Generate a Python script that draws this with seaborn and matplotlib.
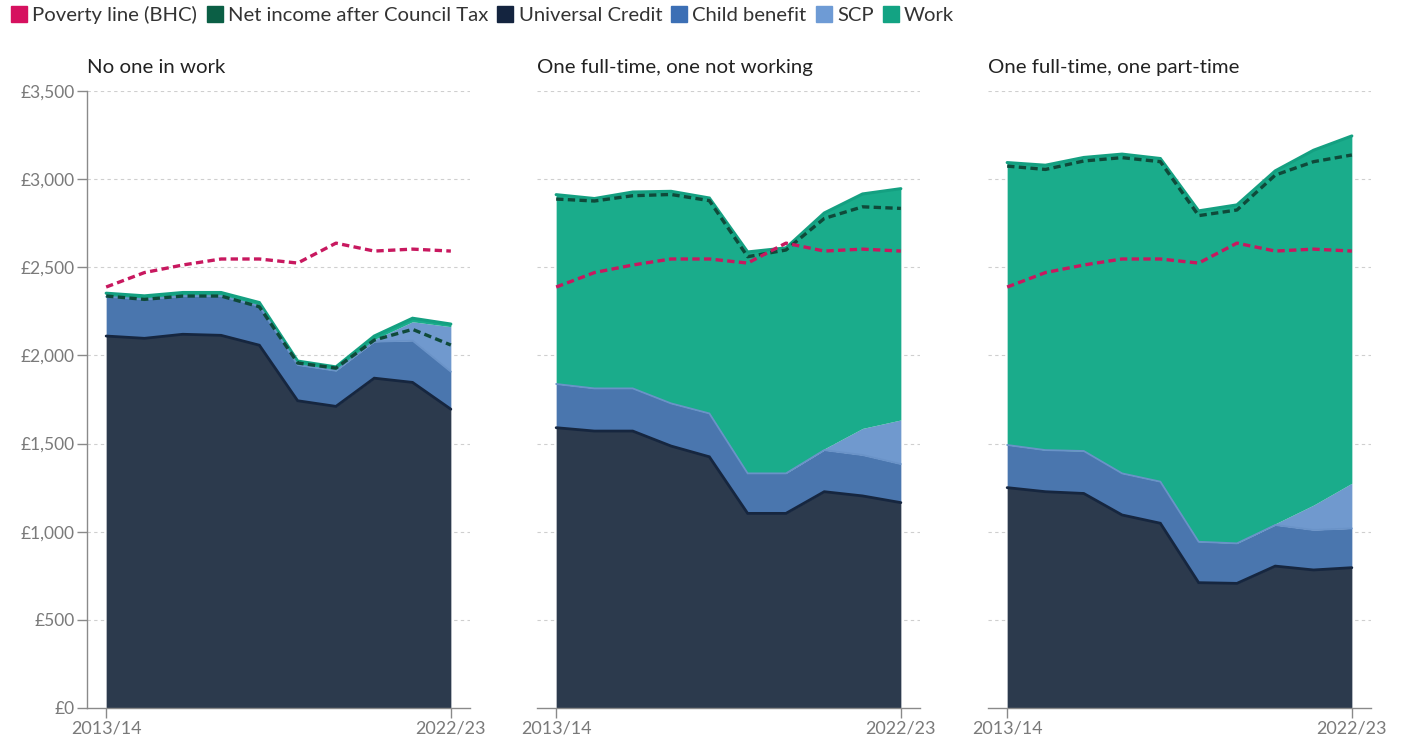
import numpy as np
import pandas as pd
import matplotlib
matplotlib.use("Agg")
import matplotlib.pyplot as plt
from matplotlib.lines import Line2D
import seaborn as sns

# ---------------- data ----------------
years = ["2013/14", "2014/15", "2015/16", "2016/17", "2017/18",
         "2018/19", "2019/20", "2020/21", "2021/22", "2022/23"]
panel_titles = ["No one in work", "One full-time, one not working", "One full-time, one part-time"]

poverty = [2388, 2470, 2513, 2547, 2547, 2524, 2637, 2592, 2603, 2592]

uc1 = [2110, 2097, 2120, 2114, 2058, 1743, 1711, 1871, 1847, 1695]
cb1 = [223, 221, 217, 223, 222, 203, 202, 207, 237, 213]
scp1 = [0, 0, 0, 0, 0, 0, 0, 12, 107, 255]
work1 = [20, 20, 20, 20, 20, 22, 22, 20, 20, 15]
net1 = [2337, 2318, 2337, 2337, 2276, 1957, 1928, 2087, 2148, 2059]

uc2 = [1590, 1571, 1571, 1486, 1425, 1104, 1104, 1227, 1203, 1165]
cb2 = [248, 242, 242, 242, 246, 227, 227, 236, 232, 219]
scp2 = [0, 0, 0, 0, 0, 0, 0, 7, 151, 250]
work2 = [1074, 1077, 1114, 1203, 1222, 1256, 1279, 1338, 1330, 1312]
net2 = [2887, 2876, 2906, 2913, 2878, 2560, 2598, 2777, 2843, 2834]

uc3 = [1250, 1227, 1217, 1095, 1048, 711, 707, 805, 783, 796]
cb3 = [242, 236, 241, 236, 236, 232, 227, 233, 227, 223]
scp3 = [0, 0, 0, 0, 0, 0, 0, 7, 141, 256]
work3 = [1602, 1616, 1665, 1811, 1833, 1877, 1920, 2002, 2013, 1970]
net3 = [3074, 3055, 3103, 3122, 3099, 2793, 2825, 3023, 3099, 3137]

ytick_values = [0, 500, 1000, 1500, 2000, 2500, 3000, 3500]
ytick_labels = ["£0", "£500", "£1,000", "£1,500", "£2,000", "£2,500", "£3,000", "£3,500"]

legend_labels = ["Poverty line (BHC)", "Net income after Council Tax", "Universal Credit",
                 "Child benefit", "SCP", "Work"]

panels = [
    (uc1, cb1, scp1, work1, net1),
    (uc2, cb2, scp2, work2, net2),
    (uc3, cb3, scp3, work3, net3),
]

# ---------------- style ----------------
sns.set_theme(style="white")
plt.rcParams["font.family"] = ["Lato", "DejaVu Sans"]

fill_cols = ["#2C3A4D", "#4A76AE", "#7099CE", "#1AAC8B"]
edge_cols = ["#16263F", "#6A93C8", "#7DA3D4", "#14A081"]
edge_lw = [2.0, 1.3, 1.0, 2.2]
pov_col = "#C8185F"
net_col = "#0F4A3A"
legend_cols = ["#D6115F", "#0B5F45", "#14243F", "#3C6FB5", "#6E9BD5", "#13A383"]
grey = "#8A8A8A"

fig = plt.figure(figsize=(14.08, 7.43), dpi=100)
W, H = 1408, 743
lefts = [87, 537, 988]
ax_w = 383
bottom_px, top_px = 708, 91

x = np.arange(len(years))

for i, (uc, cb, scp, work, net) in enumerate(panels):
    ax = fig.add_axes([lefts[i] / W, 1 - bottom_px / H, ax_w / W, (bottom_px - top_px) / H])
    comps = [np.array(uc), np.array(cb), np.array(scp), np.array(work)]
    cum = np.cumsum(np.vstack(comps), axis=0)
    base = np.zeros(len(x))
    for k in range(4):
        ax.fill_between(x, base, cum[k], color=fill_cols[k], linewidth=0, zorder=2 + k * 0.1)
        base = cum[k]
    # edges drawn with seaborn
    for k in [3, 1, 0]:
        df = pd.DataFrame({"x": x, "y": cum[k]})
        sns.lineplot(data=df, x="x", y="y", ax=ax, color=edge_cols[k], linewidth=edge_lw[k],
                     zorder=3 + (3 - k) * 0.1, solid_joinstyle="miter")
    # net income dashed
    sns.lineplot(data=pd.DataFrame({"x": x, "y": net}), x="x", y="y", ax=ax, color=net_col,
                 linewidth=2.4, linestyle=(0, (2.2, 1.3)), zorder=5)
    # poverty line
    sns.lineplot(data=pd.DataFrame({"x": x, "y": poverty}), x="x", y="y", ax=ax, color=pov_col,
                 linewidth=2.4, linestyle=(0, (2.2, 1.3)), zorder=6)

    ax.set_xlim(-0.5, 9.5)
    ax.set_ylim(0, 3500)
    ax.set_xlabel("")
    ax.set_ylabel("")
    ax.set_xticks([0, 9])
    ax.set_xticklabels([years[0], years[-1]])
    ax.set_yticks(ytick_values)
    for yv in ytick_values[1:]:
        ax.axhline(yv, color="#CFCFCF", linewidth=0.8, linestyle=(0, (3, 3)), zorder=1)
    ax.grid(False)
    for s in ["top", "right"]:
        ax.spines[s].set_visible(False)
    ax.spines["bottom"].set_color(grey)
    ax.spines["bottom"].set_linewidth(1.0)
    ax.spines["bottom"].set_zorder(7)
    ax.tick_params(axis="x", direction="out", length=7, width=1, color=grey,
                   labelsize=13, labelcolor="#7A7A7A", pad=2, bottom=True)
    if i == 0:
        ax.spines["left"].set_color(grey)
        ax.spines["left"].set_linewidth(1.0)
        ax.set_yticklabels(ytick_labels)
        ax.tick_params(axis="y", direction="out", length=7, width=1, color=grey,
                       labelsize=12.5, labelcolor="#7A7A7A", pad=2, left=True)
    else:
        ax.spines["left"].set_visible(False)
        ax.tick_params(axis="y", left=False, labelleft=False)
    ax.set_title(panel_titles[i], loc="left", fontsize=14.7, color="#222222", pad=13)

handles = [Line2D([0], [0], marker="s", linestyle="none", markersize=11.5,
                  markerfacecolor=c, markeredgecolor=c) for c in legend_cols]
fig.legend(handles, legend_labels, loc="upper left", bbox_to_anchor=(0.0, 1.008), ncol=6,
           frameon=False, fontsize=14.6, handlelength=0.7, handletextpad=0.3,
           columnspacing=0.5, borderaxespad=0.2, labelcolor="#333333")

fig.savefig("out.png", dpi=100, facecolor="white")
